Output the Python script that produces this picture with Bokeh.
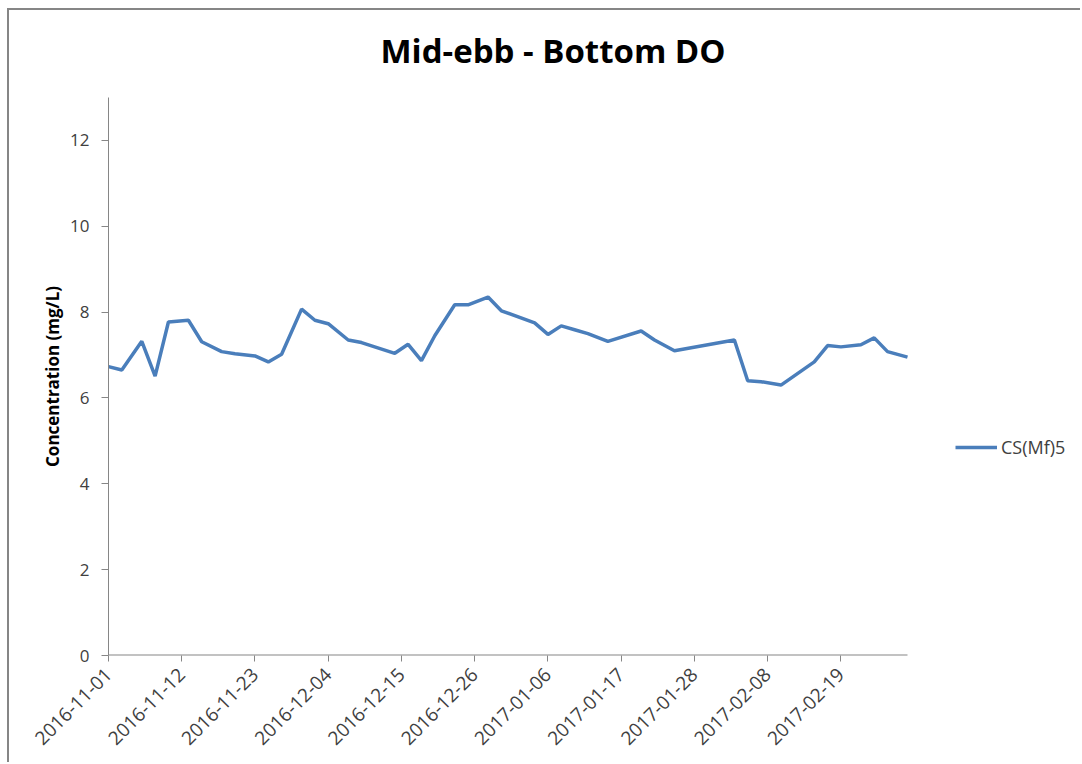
import pandas as pd
from bokeh.plotting import figure
from bokeh.models import (FixedTicker, Range1d, Legend, LegendItem, Title)
from bokeh.embed import file_html
from bokeh.resources import INLINE

# ---- data ----
dates = ["2016-11-01", "2016-11-03", "2016-11-06", "2016-11-08", "2016-11-10",
         "2016-11-13", "2016-11-15", "2016-11-18", "2016-11-20", "2016-11-23",
         "2016-11-25", "2016-11-27", "2016-11-30", "2016-12-02", "2016-12-04",
         "2016-12-07", "2016-12-09", "2016-12-14", "2016-12-16", "2016-12-18",
         "2016-12-20", "2016-12-23", "2016-12-25", "2016-12-28", "2016-12-30",
         "2017-01-04", "2017-01-06", "2017-01-08", "2017-01-10", "2017-01-12",
         "2017-01-15", "2017-01-20", "2017-01-22", "2017-01-25", "2017-02-03",
         "2017-02-05", "2017-02-07", "2017-02-10", "2017-02-15", "2017-02-17",
         "2017-02-19", "2017-02-22", "2017-02-24", "2017-02-26", "2017-03-01"]
do_values = [6.73, 6.65, 7.32, 6.51, 7.77,
             7.81, 7.31, 7.08, 7.03, 6.98,
             6.84, 7.02, 8.07, 7.81, 7.73,
             7.35, 7.29, 7.04, 7.25, 6.87,
             7.45, 8.17, 8.17, 8.35, 8.03,
             7.75, 7.48, 7.68, 7.59, 7.50,
             7.32, 7.56, 7.35, 7.10, 7.35,
             6.40, 6.38, 6.30, 6.84, 7.22,
             7.19, 7.24, 7.40, 7.08, 6.95]
series_name = "CS(Mf)5"
x_tick_labels = ["2016-11-01", "2016-11-12", "2016-11-23", "2016-12-04", "2016-12-15",
                 "2016-12-26", "2017-01-06", "2017-01-17", "2017-01-28", "2017-02-08",
                 "2017-02-19"]
y_ticks = [0, 2, 4, 6, 8, 10, 12]
x_start, x_end = "2016-11-01", "2017-03-01"
y_start, y_end = 0, 13

x = pd.to_datetime(dates)

def ms(d):
    return pd.Timestamp(d).value / 1e6

AXIS = "#868686"
TXT = "#404040"
FONT = "Open Sans"

# layout (pixels)
W, H = 1080, 762
ML, MT = 108, 96
MB = H - 655
AXIS_PX = 799                      # drawn length of the x axis
FRAME_W = W - ML                   # frame extends to the right edge (legend room)
span_ms = ms(x_end) - ms(x_start)
view_end = ms(x_start) + span_ms * FRAME_W / AXIS_PX

p = figure(width=W, height=H, x_axis_type="datetime",
           output_backend="svg", toolbar_location=None,
           x_range=Range1d(ms(x_start), view_end),
           y_range=Range1d(y_start, y_end),
           min_border_left=ML, min_border_right=0,
           min_border_top=MT, min_border_bottom=MB)
# chart-area frame (top and left edges visible), drawn behind a transparent canvas
p.styles = {
    "background-image": "linear-gradient(#868686, #868686), linear-gradient(#868686, #868686)",
    "background-size": "100% 2px, 2px 100%",
    "background-position": "7px 8px, 7px 8px",
    "background-repeat": "no-repeat",
}
p.border_fill_color = None
p.background_fill_color = None
p.outline_line_color = None
p.grid.visible = False

p.title = Title(text="Mid-ebb - Bottom DO", align="left", offset=272,
                text_font=FONT, text_font_size="33px", text_font_style="bold",
                text_color="black", standoff=50)

# x axis line only over the data span
p.segment(x0=[ms(x_start)], y0=[y_start], x1=[ms(x_end)], y1=[y_start],
          line_color=AXIS, line_width=2)

r = p.line(x, do_values, line_color="#4A7EBB", line_width=3.5)

# x axis
xa = p.xaxis[0]
xa.ticker = FixedTicker(ticks=[ms(t) for t in x_tick_labels])
xa.major_label_overrides = {ms(t): t for t in x_tick_labels}
xa.major_label_orientation = 0.7854
xa.axis_line_color = None
xa.major_tick_line_color = AXIS
xa.minor_tick_line_color = None
xa.major_tick_out = 6
xa.major_tick_in = 0
xa.major_label_text_font = FONT
xa.major_label_text_font_size = "19px"
xa.major_label_text_color = TXT
xa.major_label_standoff = 10

# y axis
ya = p.yaxis[0]
ya.ticker = FixedTicker(ticks=y_ticks)
ya.axis_line_color = AXIS
ya.major_tick_line_color = AXIS
ya.minor_tick_line_color = None
ya.major_tick_out = 7
ya.major_tick_in = 0
ya.major_label_text_font = FONT
ya.major_label_text_font_size = "17px"
ya.major_label_text_color = TXT
ya.major_label_standoff = 12
ya.axis_label = "Concentration (mg/L)"
ya.axis_label_text_font = FONT
ya.axis_label_text_font_size = "17px"
ya.axis_label_text_font_style = "bold"
ya.axis_label_text_color = "black"
ya.axis_label_standoff = 3

legend = Legend(items=[LegendItem(label=series_name, renderers=[r])],
                location=(847, 196), padding=0, margin=0, spacing=0,
                border_line_color=None, background_fill_alpha=0,
                glyph_width=42, glyph_height=20, label_standoff=4,
                label_text_font=FONT, label_text_font_size="18px",
                label_text_color=TXT)
p.add_layout(legend, "center")

open("out.html", "w").write(file_html(p, INLINE))
